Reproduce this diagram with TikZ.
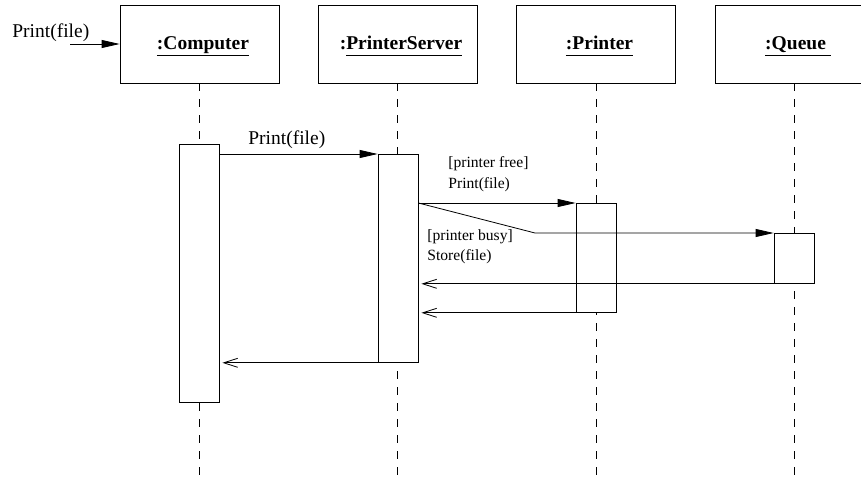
\documentclass[tikz,border=0pt]{standalone}
\usepackage{fontspec}
\setmainfont{Liberation Serif}
\usetikzlibrary{arrows.meta}
% underlined object name with a fixed descender depth
\newcommand\objul[1]{\hspace*{7pt}\underline{#1\vphantom{p}}}
\begin{document}
\begin{tikzpicture}[x=1pt,y=-1pt,
  line width=0.8pt,
  object/.style={draw, minimum width=159pt, minimum height=78pt, inner sep=0pt,
    text height=17pt, font=\fontsize{19.5}{22}\selectfont\bfseries},
  activation/.style={draw, fill=white, minimum width=40pt, inner sep=0pt, anchor=north},
  lifeline/.style={dash pattern=on 8pt off 8pt},
  call/.style={-{Triangle[length=18pt,width=8pt]}},
  reply/.style={-{Straight Barb[length=14pt,width=9pt]}, shorten >=3pt},
  msg/.style={font=\fontsize{19.5}{22}\selectfont, inner sep=0pt, anchor=base west},
  guard/.style={font=\fontsize{15.6}{19}\selectfont, inner sep=0pt, anchor=base west},
]
\useasboundingbox (0,0) rectangle (861,479);
\clip (0,0) rectangle (861,479);
\coordinate (bottom) at (0,479);

% objects
\node[object] (comp) at (199.5,44) {\objul{:Computer}};
\node[object] (srv)  at (397.5,44) {\hspace*{7pt}:\underline{PrinterServer\vphantom{p}}};
\node[object] (prn)  at (596,44)   {\objul{:Printer}};
\node[object] (que)  at (794.5,44) {\objul{:Queue\ }};

% lifelines
\foreach \o in {comp,srv,prn,que}
  \draw[lifeline] (\o.south) -- (\o.south |- bottom);

% activations
\node[activation, minimum height=258pt] (acomp) at (199,144) {};
\node[activation, minimum height=208pt] (asrv)  at (398,154) {};
\node[activation, minimum height=109pt] (aprn)  at (596,203) {};
\node[activation, minimum height=50pt]  (aque)  at (794,233) {};

% found message
\coordinate (start) at (70,44);
\draw[call] (start) -- (comp.west |- start);
\node[msg] (lbl0) at (12,37) {Print(file)};

% calls
\draw[call] (acomp.east |- asrv.north) -- (asrv.north west);
\node[msg] (lbl1) at (248,144) {Print(file)};

\draw[call] (asrv.east |- aprn.north) -- (aprn.north west);
\node[guard] (g1a) at (448,167) {[printer free]};
\node[guard] (g1b) at (448,188) {Print(file)};

\coordinate (bend) at (535,233);
\draw[call] (asrv.east |- aprn.north) -- (bend) -- (aque.north west);
\node[guard] (g2a) at (427,240) {[printer busy]};
\node[guard] (g2b) at (427,260) {Store(file)};

% replies
\draw[reply] (aque.south west) -- (asrv.east |- aque.south);
\draw[reply] (aprn.south west) -- (asrv.east |- aprn.south);
\draw[reply] (asrv.south west) -- (acomp.east |- asrv.south);
\end{tikzpicture}
\end{document}
